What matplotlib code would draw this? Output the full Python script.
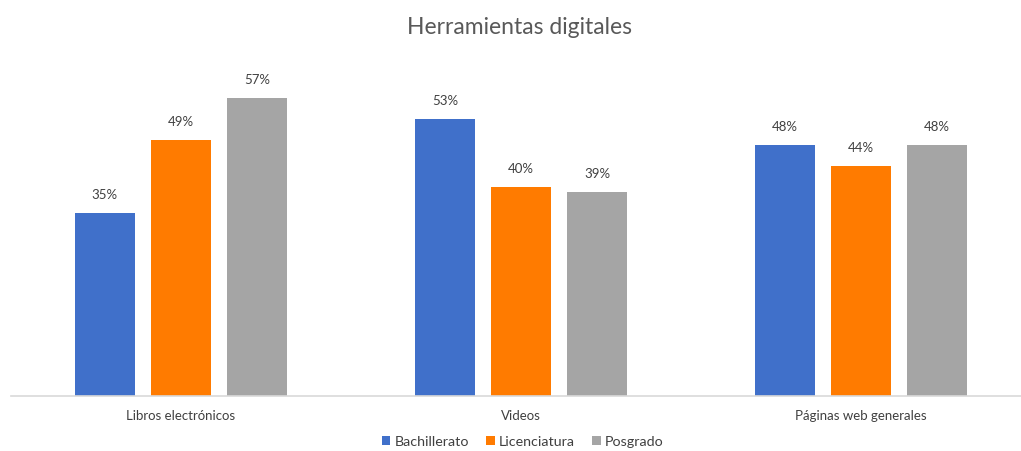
import numpy as np
import matplotlib
matplotlib.use("Agg")
import matplotlib.pyplot as plt

categories = ["Libros electrónicos", "Videos", "Páginas web generales"]
series = ["Bachillerato", "Licenciatura", "Posgrado"]
bachillerato = [35, 53, 48]
licenciatura = [49, 40, 44]
posgrado = [57, 39, 48]
colors = ["#4070CA", "#FF7B00", "#A5A5A5"]

plt.rcParams['font.family'] = ['Lato', 'DejaVu Sans']

fig = plt.figure(figsize=(10.21, 4.51), dpi=100)
ax = fig.add_axes([11 / 1021, 0.122, 1020 / 1021, 0.696])

x = np.arange(len(categories))
width = 0.175
step = 0.224
for i, (name, vals) in enumerate(zip(series, [bachillerato, licenciatura, posgrado])):
    bars = ax.bar(x + (i - 1) * step, vals, width, color=colors[i], label=name)
    for b, v in zip(bars, vals):
        ax.text(b.get_x() + b.get_width() / 2, v + 2.2, f"{v}%", ha="center",
                va="bottom", fontsize=9.5, color="#404040")

ax.set_xlim(-0.5, 2.5)
ax.set_ylim(0, 60)
ax.set_xticks(x)
ax.set_xticklabels(categories, fontsize=9.5, color="#404040")
ax.tick_params(axis="x", length=0, pad=10)
ax.set_yticks([])
for s in ["top", "right", "left"]:
    ax.spines[s].set_visible(False)
ax.spines["bottom"].set_color("#D9D9D9")
ax.spines["bottom"].set_linewidth(1.2)

fig.text(0.509, 0.94, "Herramientas digitales", ha="center", va="center",
         fontsize=16.5, color="#595959")

fig.legend(loc="center", bbox_to_anchor=(0.512, 0.02), ncol=3, frameon=False,
           fontsize=10.3, handlelength=0.6, handleheight=0.6, columnspacing=1.2,
           handletextpad=0.3, labelcolor="#404040", borderpad=0)

fig.savefig("out.png", dpi=100)
